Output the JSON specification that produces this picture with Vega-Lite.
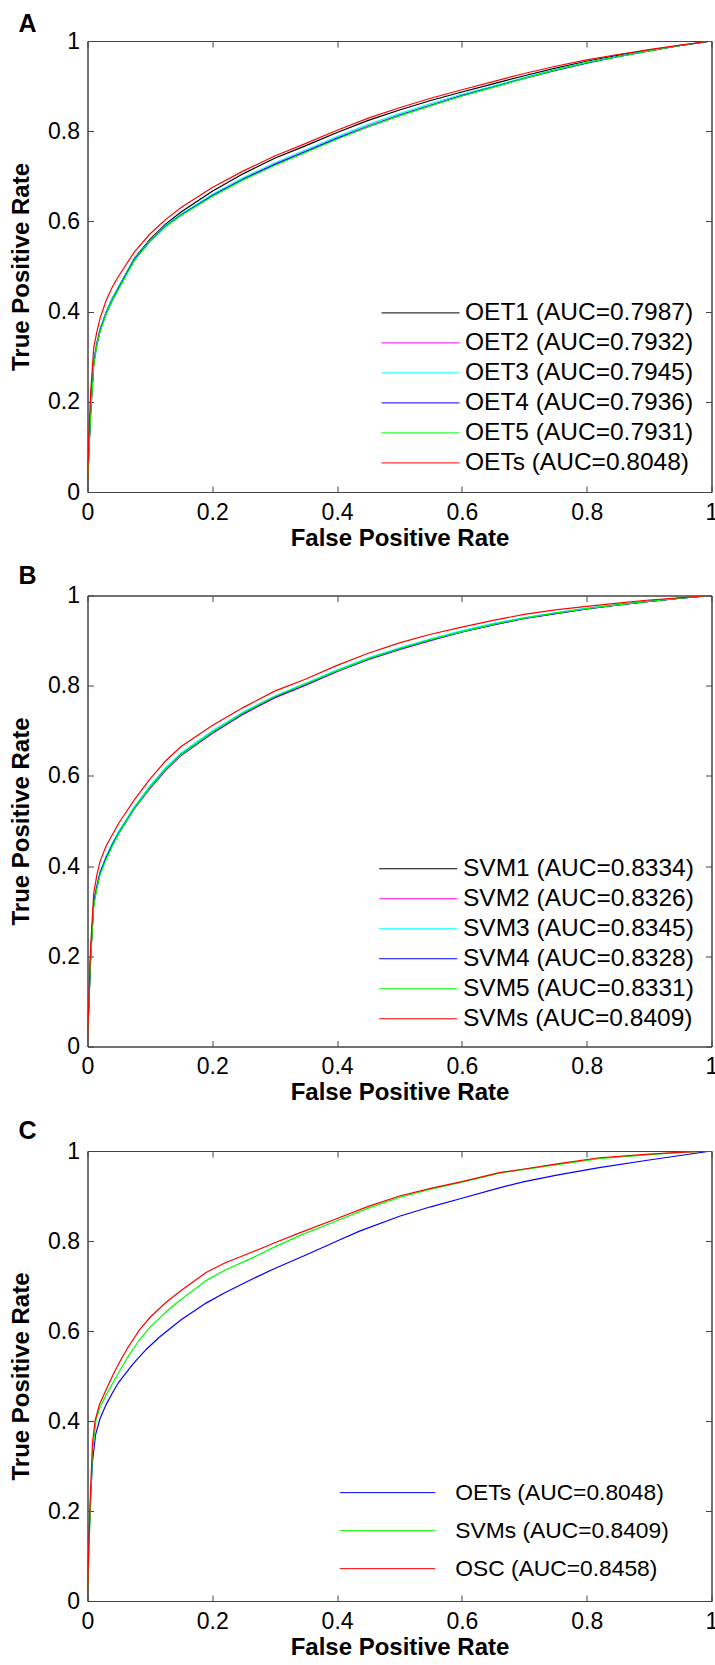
{
"$schema": "https://vega.github.io/schema/vega-lite/v6.json",
"padding": {"left": 8.5, "top": 11, "right": 0, "bottom": 0},
"spacing": 12.5,
"resolve": {"scale": {"color": "independent"}, "legend": {"color": "independent"}},
"config": {
  "view": {"stroke": "#444444", "strokeWidth": 1},
  "font": "Liberation Sans",
  "axis": {"grid": false, "labelFont": "Liberation Sans", "labelFontSize": 23, "labelColor": "#000000", "titleFont": "Liberation Sans", "titleFontSize": 24, "titleFontWeight": "bold", "titleColor": "#000000", "domainColor": "#444444", "tickColor": "#444444", "tickSize": -6, "labelFlush": false, "labelOverlap": false},
  "axisX": {"titlePadding": 2, "labelPadding": 15},
  "axisY": {"titlePadding": 14, "labelPadding": 14},
  "legend": {"labelFont": "Liberation Sans", "labelFontSize": 24.5, "labelColor": "#000000", "symbolType": "stroke", "symbolSize": 6084, "symbolStrokeWidth": 1, "labelOffset": 5, "rowPadding": 0, "clipHeight": 29.8, "padding": 0, "labelLimit": 400, "orient": "none"},
  "title": {"font": "Liberation Sans", "fontSize": 25, "fontWeight": "bold", "color": "#000000", "anchor": "start", "frame": "bounds", "dx": 9, "baseline": "alphabetic"}
},
"datasets": {
"A": [
{"s":"OET1 (AUC=0.7987)","x":0,"y":0},{"s":"OET1 (AUC=0.7987)","x":0.002,"y":0.09},{"s":"OET1 (AUC=0.7987)","x":0.005,"y":0.18},{"s":"OET1 (AUC=0.7987)","x":0.01,"y":0.29},{"s":"OET1 (AUC=0.7987)","x":0.015,"y":0.33},{"s":"OET1 (AUC=0.7987)","x":0.02,"y":0.36},{"s":"OET1 (AUC=0.7987)","x":0.03,"y":0.4},{"s":"OET1 (AUC=0.7987)","x":0.04,"y":0.43},{"s":"OET1 (AUC=0.7987)","x":0.05,"y":0.455},{"s":"OET1 (AUC=0.7987)","x":0.075,"y":0.518},{"s":"OET1 (AUC=0.7987)","x":0.1,"y":0.56},{"s":"OET1 (AUC=0.7987)","x":0.125,"y":0.594},{"s":"OET1 (AUC=0.7987)","x":0.15,"y":0.621},{"s":"OET1 (AUC=0.7987)","x":0.2,"y":0.667},{"s":"OET1 (AUC=0.7987)","x":0.25,"y":0.706},{"s":"OET1 (AUC=0.7987)","x":0.3,"y":0.74},{"s":"OET1 (AUC=0.7987)","x":0.35,"y":0.768},{"s":"OET1 (AUC=0.7987)","x":0.4,"y":0.797},{"s":"OET1 (AUC=0.7987)","x":0.45,"y":0.824},{"s":"OET1 (AUC=0.7987)","x":0.5,"y":0.847},{"s":"OET1 (AUC=0.7987)","x":0.55,"y":0.868},{"s":"OET1 (AUC=0.7987)","x":0.6,"y":0.887},{"s":"OET1 (AUC=0.7987)","x":0.65,"y":0.905},{"s":"OET1 (AUC=0.7987)","x":0.7,"y":0.923},{"s":"OET1 (AUC=0.7987)","x":0.75,"y":0.94},{"s":"OET1 (AUC=0.7987)","x":0.8,"y":0.955},{"s":"OET1 (AUC=0.7987)","x":0.85,"y":0.968},{"s":"OET1 (AUC=0.7987)","x":0.9,"y":0.98},{"s":"OET1 (AUC=0.7987)","x":0.95,"y":0.99},{"s":"OET1 (AUC=0.7987)","x":1,"y":1},
{"s":"OET2 (AUC=0.7932)","x":0,"y":0},{"s":"OET2 (AUC=0.7932)","x":0.002,"y":0.085},{"s":"OET2 (AUC=0.7932)","x":0.005,"y":0.175},{"s":"OET2 (AUC=0.7932)","x":0.01,"y":0.285},{"s":"OET2 (AUC=0.7932)","x":0.015,"y":0.328},{"s":"OET2 (AUC=0.7932)","x":0.02,"y":0.357},{"s":"OET2 (AUC=0.7932)","x":0.03,"y":0.397},{"s":"OET2 (AUC=0.7932)","x":0.04,"y":0.427},{"s":"OET2 (AUC=0.7932)","x":0.05,"y":0.452},{"s":"OET2 (AUC=0.7932)","x":0.075,"y":0.515},{"s":"OET2 (AUC=0.7932)","x":0.1,"y":0.557},{"s":"OET2 (AUC=0.7932)","x":0.125,"y":0.59},{"s":"OET2 (AUC=0.7932)","x":0.15,"y":0.615},{"s":"OET2 (AUC=0.7932)","x":0.2,"y":0.658},{"s":"OET2 (AUC=0.7932)","x":0.25,"y":0.695},{"s":"OET2 (AUC=0.7932)","x":0.3,"y":0.727},{"s":"OET2 (AUC=0.7932)","x":0.35,"y":0.756},{"s":"OET2 (AUC=0.7932)","x":0.4,"y":0.785},{"s":"OET2 (AUC=0.7932)","x":0.45,"y":0.812},{"s":"OET2 (AUC=0.7932)","x":0.5,"y":0.836},{"s":"OET2 (AUC=0.7932)","x":0.55,"y":0.858},{"s":"OET2 (AUC=0.7932)","x":0.6,"y":0.879},{"s":"OET2 (AUC=0.7932)","x":0.65,"y":0.898},{"s":"OET2 (AUC=0.7932)","x":0.7,"y":0.918},{"s":"OET2 (AUC=0.7932)","x":0.75,"y":0.936},{"s":"OET2 (AUC=0.7932)","x":0.8,"y":0.952},{"s":"OET2 (AUC=0.7932)","x":0.85,"y":0.966},{"s":"OET2 (AUC=0.7932)","x":0.9,"y":0.978},{"s":"OET2 (AUC=0.7932)","x":0.95,"y":0.99},{"s":"OET2 (AUC=0.7932)","x":1,"y":1},
{"s":"OET3 (AUC=0.7945)","x":0,"y":0},{"s":"OET3 (AUC=0.7945)","x":0.002,"y":0.09},{"s":"OET3 (AUC=0.7945)","x":0.005,"y":0.18},{"s":"OET3 (AUC=0.7945)","x":0.01,"y":0.29},{"s":"OET3 (AUC=0.7945)","x":0.015,"y":0.33},{"s":"OET3 (AUC=0.7945)","x":0.02,"y":0.36},{"s":"OET3 (AUC=0.7945)","x":0.03,"y":0.4},{"s":"OET3 (AUC=0.7945)","x":0.04,"y":0.43},{"s":"OET3 (AUC=0.7945)","x":0.05,"y":0.455},{"s":"OET3 (AUC=0.7945)","x":0.075,"y":0.517},{"s":"OET3 (AUC=0.7945)","x":0.1,"y":0.558},{"s":"OET3 (AUC=0.7945)","x":0.125,"y":0.591},{"s":"OET3 (AUC=0.7945)","x":0.15,"y":0.616},{"s":"OET3 (AUC=0.7945)","x":0.2,"y":0.66},{"s":"OET3 (AUC=0.7945)","x":0.25,"y":0.697},{"s":"OET3 (AUC=0.7945)","x":0.3,"y":0.73},{"s":"OET3 (AUC=0.7945)","x":0.35,"y":0.759},{"s":"OET3 (AUC=0.7945)","x":0.4,"y":0.788},{"s":"OET3 (AUC=0.7945)","x":0.45,"y":0.815},{"s":"OET3 (AUC=0.7945)","x":0.5,"y":0.839},{"s":"OET3 (AUC=0.7945)","x":0.55,"y":0.861},{"s":"OET3 (AUC=0.7945)","x":0.6,"y":0.882},{"s":"OET3 (AUC=0.7945)","x":0.65,"y":0.9},{"s":"OET3 (AUC=0.7945)","x":0.7,"y":0.919},{"s":"OET3 (AUC=0.7945)","x":0.75,"y":0.937},{"s":"OET3 (AUC=0.7945)","x":0.8,"y":0.953},{"s":"OET3 (AUC=0.7945)","x":0.85,"y":0.966},{"s":"OET3 (AUC=0.7945)","x":0.9,"y":0.979},{"s":"OET3 (AUC=0.7945)","x":0.95,"y":0.99},{"s":"OET3 (AUC=0.7945)","x":1,"y":1},
{"s":"OET4 (AUC=0.7936)","x":0,"y":0},{"s":"OET4 (AUC=0.7936)","x":0.002,"y":0.085},{"s":"OET4 (AUC=0.7936)","x":0.005,"y":0.175},{"s":"OET4 (AUC=0.7936)","x":0.01,"y":0.285},{"s":"OET4 (AUC=0.7936)","x":0.015,"y":0.327},{"s":"OET4 (AUC=0.7936)","x":0.02,"y":0.357},{"s":"OET4 (AUC=0.7936)","x":0.03,"y":0.396},{"s":"OET4 (AUC=0.7936)","x":0.04,"y":0.426},{"s":"OET4 (AUC=0.7936)","x":0.05,"y":0.452},{"s":"OET4 (AUC=0.7936)","x":0.075,"y":0.515},{"s":"OET4 (AUC=0.7936)","x":0.1,"y":0.556},{"s":"OET4 (AUC=0.7936)","x":0.125,"y":0.589},{"s":"OET4 (AUC=0.7936)","x":0.15,"y":0.614},{"s":"OET4 (AUC=0.7936)","x":0.2,"y":0.657},{"s":"OET4 (AUC=0.7936)","x":0.25,"y":0.694},{"s":"OET4 (AUC=0.7936)","x":0.3,"y":0.726},{"s":"OET4 (AUC=0.7936)","x":0.35,"y":0.755},{"s":"OET4 (AUC=0.7936)","x":0.4,"y":0.784},{"s":"OET4 (AUC=0.7936)","x":0.45,"y":0.81},{"s":"OET4 (AUC=0.7936)","x":0.5,"y":0.835},{"s":"OET4 (AUC=0.7936)","x":0.55,"y":0.857},{"s":"OET4 (AUC=0.7936)","x":0.6,"y":0.879},{"s":"OET4 (AUC=0.7936)","x":0.65,"y":0.898},{"s":"OET4 (AUC=0.7936)","x":0.7,"y":0.917},{"s":"OET4 (AUC=0.7936)","x":0.75,"y":0.935},{"s":"OET4 (AUC=0.7936)","x":0.8,"y":0.951},{"s":"OET4 (AUC=0.7936)","x":0.85,"y":0.965},{"s":"OET4 (AUC=0.7936)","x":0.9,"y":0.978},{"s":"OET4 (AUC=0.7936)","x":0.95,"y":0.99},{"s":"OET4 (AUC=0.7936)","x":1,"y":1},
{"s":"OET5 (AUC=0.7931)","x":0,"y":0},{"s":"OET5 (AUC=0.7931)","x":0.002,"y":0.08},{"s":"OET5 (AUC=0.7931)","x":0.005,"y":0.17},{"s":"OET5 (AUC=0.7931)","x":0.01,"y":0.28},{"s":"OET5 (AUC=0.7931)","x":0.015,"y":0.325},{"s":"OET5 (AUC=0.7931)","x":0.02,"y":0.355},{"s":"OET5 (AUC=0.7931)","x":0.03,"y":0.395},{"s":"OET5 (AUC=0.7931)","x":0.04,"y":0.425},{"s":"OET5 (AUC=0.7931)","x":0.05,"y":0.45},{"s":"OET5 (AUC=0.7931)","x":0.075,"y":0.513},{"s":"OET5 (AUC=0.7931)","x":0.1,"y":0.555},{"s":"OET5 (AUC=0.7931)","x":0.125,"y":0.588},{"s":"OET5 (AUC=0.7931)","x":0.15,"y":0.613},{"s":"OET5 (AUC=0.7931)","x":0.2,"y":0.655},{"s":"OET5 (AUC=0.7931)","x":0.25,"y":0.692},{"s":"OET5 (AUC=0.7931)","x":0.3,"y":0.724},{"s":"OET5 (AUC=0.7931)","x":0.35,"y":0.753},{"s":"OET5 (AUC=0.7931)","x":0.4,"y":0.782},{"s":"OET5 (AUC=0.7931)","x":0.45,"y":0.81},{"s":"OET5 (AUC=0.7931)","x":0.5,"y":0.834},{"s":"OET5 (AUC=0.7931)","x":0.55,"y":0.856},{"s":"OET5 (AUC=0.7931)","x":0.6,"y":0.878},{"s":"OET5 (AUC=0.7931)","x":0.65,"y":0.897},{"s":"OET5 (AUC=0.7931)","x":0.7,"y":0.917},{"s":"OET5 (AUC=0.7931)","x":0.75,"y":0.936},{"s":"OET5 (AUC=0.7931)","x":0.8,"y":0.952},{"s":"OET5 (AUC=0.7931)","x":0.85,"y":0.965},{"s":"OET5 (AUC=0.7931)","x":0.9,"y":0.978},{"s":"OET5 (AUC=0.7931)","x":0.95,"y":0.99},{"s":"OET5 (AUC=0.7931)","x":1,"y":1},
{"s":"OETs (AUC=0.8048)","x":0,"y":0},{"s":"OETs (AUC=0.8048)","x":0.002,"y":0.12},{"s":"OETs (AUC=0.8048)","x":0.005,"y":0.22},{"s":"OETs (AUC=0.8048)","x":0.01,"y":0.32},{"s":"OETs (AUC=0.8048)","x":0.015,"y":0.355},{"s":"OETs (AUC=0.8048)","x":0.02,"y":0.385},{"s":"OETs (AUC=0.8048)","x":0.03,"y":0.425},{"s":"OETs (AUC=0.8048)","x":0.04,"y":0.455},{"s":"OETs (AUC=0.8048)","x":0.05,"y":0.479},{"s":"OETs (AUC=0.8048)","x":0.075,"y":0.532},{"s":"OETs (AUC=0.8048)","x":0.1,"y":0.572},{"s":"OETs (AUC=0.8048)","x":0.125,"y":0.604},{"s":"OETs (AUC=0.8048)","x":0.15,"y":0.631},{"s":"OETs (AUC=0.8048)","x":0.2,"y":0.675},{"s":"OETs (AUC=0.8048)","x":0.25,"y":0.712},{"s":"OETs (AUC=0.8048)","x":0.3,"y":0.745},{"s":"OETs (AUC=0.8048)","x":0.35,"y":0.773},{"s":"OETs (AUC=0.8048)","x":0.4,"y":0.802},{"s":"OETs (AUC=0.8048)","x":0.45,"y":0.829},{"s":"OETs (AUC=0.8048)","x":0.5,"y":0.852},{"s":"OETs (AUC=0.8048)","x":0.55,"y":0.873},{"s":"OETs (AUC=0.8048)","x":0.6,"y":0.892},{"s":"OETs (AUC=0.8048)","x":0.65,"y":0.91},{"s":"OETs (AUC=0.8048)","x":0.7,"y":0.928},{"s":"OETs (AUC=0.8048)","x":0.75,"y":0.944},{"s":"OETs (AUC=0.8048)","x":0.8,"y":0.958},{"s":"OETs (AUC=0.8048)","x":0.85,"y":0.97},{"s":"OETs (AUC=0.8048)","x":0.9,"y":0.981},{"s":"OETs (AUC=0.8048)","x":0.95,"y":0.991},{"s":"OETs (AUC=0.8048)","x":1,"y":1}
],
"B": [
{"s":"SVM1 (AUC=0.8334)","x":0,"y":0},{"s":"SVM1 (AUC=0.8334)","x":0.002,"y":0.09},{"s":"SVM1 (AUC=0.8334)","x":0.005,"y":0.2},{"s":"SVM1 (AUC=0.8334)","x":0.01,"y":0.32},{"s":"SVM1 (AUC=0.8334)","x":0.015,"y":0.355},{"s":"SVM1 (AUC=0.8334)","x":0.02,"y":0.385},{"s":"SVM1 (AUC=0.8334)","x":0.03,"y":0.42},{"s":"SVM1 (AUC=0.8334)","x":0.04,"y":0.45},{"s":"SVM1 (AUC=0.8334)","x":0.05,"y":0.475},{"s":"SVM1 (AUC=0.8334)","x":0.075,"y":0.53},{"s":"SVM1 (AUC=0.8334)","x":0.1,"y":0.575},{"s":"SVM1 (AUC=0.8334)","x":0.125,"y":0.615},{"s":"SVM1 (AUC=0.8334)","x":0.15,"y":0.648},{"s":"SVM1 (AUC=0.8334)","x":0.2,"y":0.697},{"s":"SVM1 (AUC=0.8334)","x":0.25,"y":0.74},{"s":"SVM1 (AUC=0.8334)","x":0.3,"y":0.775},{"s":"SVM1 (AUC=0.8334)","x":0.35,"y":0.803},{"s":"SVM1 (AUC=0.8334)","x":0.4,"y":0.833},{"s":"SVM1 (AUC=0.8334)","x":0.45,"y":0.86},{"s":"SVM1 (AUC=0.8334)","x":0.5,"y":0.882},{"s":"SVM1 (AUC=0.8334)","x":0.55,"y":0.902},{"s":"SVM1 (AUC=0.8334)","x":0.6,"y":0.92},{"s":"SVM1 (AUC=0.8334)","x":0.65,"y":0.936},{"s":"SVM1 (AUC=0.8334)","x":0.7,"y":0.95},{"s":"SVM1 (AUC=0.8334)","x":0.75,"y":0.961},{"s":"SVM1 (AUC=0.8334)","x":0.8,"y":0.971},{"s":"SVM1 (AUC=0.8334)","x":0.85,"y":0.979},{"s":"SVM1 (AUC=0.8334)","x":0.9,"y":0.987},{"s":"SVM1 (AUC=0.8334)","x":0.95,"y":0.994},{"s":"SVM1 (AUC=0.8334)","x":1,"y":1},
{"s":"SVM2 (AUC=0.8326)","x":0,"y":0},{"s":"SVM2 (AUC=0.8326)","x":0.002,"y":0.088},{"s":"SVM2 (AUC=0.8326)","x":0.005,"y":0.198},{"s":"SVM2 (AUC=0.8326)","x":0.01,"y":0.318},{"s":"SVM2 (AUC=0.8326)","x":0.015,"y":0.353},{"s":"SVM2 (AUC=0.8326)","x":0.02,"y":0.383},{"s":"SVM2 (AUC=0.8326)","x":0.03,"y":0.418},{"s":"SVM2 (AUC=0.8326)","x":0.04,"y":0.447},{"s":"SVM2 (AUC=0.8326)","x":0.05,"y":0.472},{"s":"SVM2 (AUC=0.8326)","x":0.075,"y":0.527},{"s":"SVM2 (AUC=0.8326)","x":0.1,"y":0.572},{"s":"SVM2 (AUC=0.8326)","x":0.125,"y":0.612},{"s":"SVM2 (AUC=0.8326)","x":0.15,"y":0.645},{"s":"SVM2 (AUC=0.8326)","x":0.2,"y":0.694},{"s":"SVM2 (AUC=0.8326)","x":0.25,"y":0.737},{"s":"SVM2 (AUC=0.8326)","x":0.3,"y":0.773},{"s":"SVM2 (AUC=0.8326)","x":0.35,"y":0.801},{"s":"SVM2 (AUC=0.8326)","x":0.4,"y":0.831},{"s":"SVM2 (AUC=0.8326)","x":0.45,"y":0.858},{"s":"SVM2 (AUC=0.8326)","x":0.5,"y":0.88},{"s":"SVM2 (AUC=0.8326)","x":0.55,"y":0.9},{"s":"SVM2 (AUC=0.8326)","x":0.6,"y":0.919},{"s":"SVM2 (AUC=0.8326)","x":0.65,"y":0.935},{"s":"SVM2 (AUC=0.8326)","x":0.7,"y":0.949},{"s":"SVM2 (AUC=0.8326)","x":0.75,"y":0.96},{"s":"SVM2 (AUC=0.8326)","x":0.8,"y":0.97},{"s":"SVM2 (AUC=0.8326)","x":0.85,"y":0.979},{"s":"SVM2 (AUC=0.8326)","x":0.9,"y":0.987},{"s":"SVM2 (AUC=0.8326)","x":0.95,"y":0.994},{"s":"SVM2 (AUC=0.8326)","x":1,"y":1},
{"s":"SVM3 (AUC=0.8345)","x":0,"y":0},{"s":"SVM3 (AUC=0.8345)","x":0.002,"y":0.092},{"s":"SVM3 (AUC=0.8345)","x":0.005,"y":0.202},{"s":"SVM3 (AUC=0.8345)","x":0.01,"y":0.322},{"s":"SVM3 (AUC=0.8345)","x":0.015,"y":0.357},{"s":"SVM3 (AUC=0.8345)","x":0.02,"y":0.387},{"s":"SVM3 (AUC=0.8345)","x":0.03,"y":0.422},{"s":"SVM3 (AUC=0.8345)","x":0.04,"y":0.452},{"s":"SVM3 (AUC=0.8345)","x":0.05,"y":0.477},{"s":"SVM3 (AUC=0.8345)","x":0.075,"y":0.532},{"s":"SVM3 (AUC=0.8345)","x":0.1,"y":0.578},{"s":"SVM3 (AUC=0.8345)","x":0.125,"y":0.618},{"s":"SVM3 (AUC=0.8345)","x":0.15,"y":0.651},{"s":"SVM3 (AUC=0.8345)","x":0.2,"y":0.7},{"s":"SVM3 (AUC=0.8345)","x":0.25,"y":0.742},{"s":"SVM3 (AUC=0.8345)","x":0.3,"y":0.777},{"s":"SVM3 (AUC=0.8345)","x":0.35,"y":0.806},{"s":"SVM3 (AUC=0.8345)","x":0.4,"y":0.835},{"s":"SVM3 (AUC=0.8345)","x":0.45,"y":0.862},{"s":"SVM3 (AUC=0.8345)","x":0.5,"y":0.884},{"s":"SVM3 (AUC=0.8345)","x":0.55,"y":0.904},{"s":"SVM3 (AUC=0.8345)","x":0.6,"y":0.922},{"s":"SVM3 (AUC=0.8345)","x":0.65,"y":0.938},{"s":"SVM3 (AUC=0.8345)","x":0.7,"y":0.951},{"s":"SVM3 (AUC=0.8345)","x":0.75,"y":0.962},{"s":"SVM3 (AUC=0.8345)","x":0.8,"y":0.972},{"s":"SVM3 (AUC=0.8345)","x":0.85,"y":0.98},{"s":"SVM3 (AUC=0.8345)","x":0.9,"y":0.988},{"s":"SVM3 (AUC=0.8345)","x":0.95,"y":0.994},{"s":"SVM3 (AUC=0.8345)","x":1,"y":1},
{"s":"SVM4 (AUC=0.8328)","x":0,"y":0},{"s":"SVM4 (AUC=0.8328)","x":0.002,"y":0.09},{"s":"SVM4 (AUC=0.8328)","x":0.005,"y":0.2},{"s":"SVM4 (AUC=0.8328)","x":0.01,"y":0.32},{"s":"SVM4 (AUC=0.8328)","x":0.015,"y":0.354},{"s":"SVM4 (AUC=0.8328)","x":0.02,"y":0.384},{"s":"SVM4 (AUC=0.8328)","x":0.03,"y":0.419},{"s":"SVM4 (AUC=0.8328)","x":0.04,"y":0.448},{"s":"SVM4 (AUC=0.8328)","x":0.05,"y":0.473},{"s":"SVM4 (AUC=0.8328)","x":0.075,"y":0.528},{"s":"SVM4 (AUC=0.8328)","x":0.1,"y":0.573},{"s":"SVM4 (AUC=0.8328)","x":0.125,"y":0.613},{"s":"SVM4 (AUC=0.8328)","x":0.15,"y":0.646},{"s":"SVM4 (AUC=0.8328)","x":0.2,"y":0.695},{"s":"SVM4 (AUC=0.8328)","x":0.25,"y":0.738},{"s":"SVM4 (AUC=0.8328)","x":0.3,"y":0.774},{"s":"SVM4 (AUC=0.8328)","x":0.35,"y":0.802},{"s":"SVM4 (AUC=0.8328)","x":0.4,"y":0.832},{"s":"SVM4 (AUC=0.8328)","x":0.45,"y":0.858},{"s":"SVM4 (AUC=0.8328)","x":0.5,"y":0.881},{"s":"SVM4 (AUC=0.8328)","x":0.55,"y":0.901},{"s":"SVM4 (AUC=0.8328)","x":0.6,"y":0.919},{"s":"SVM4 (AUC=0.8328)","x":0.65,"y":0.935},{"s":"SVM4 (AUC=0.8328)","x":0.7,"y":0.949},{"s":"SVM4 (AUC=0.8328)","x":0.75,"y":0.96},{"s":"SVM4 (AUC=0.8328)","x":0.8,"y":0.97},{"s":"SVM4 (AUC=0.8328)","x":0.85,"y":0.979},{"s":"SVM4 (AUC=0.8328)","x":0.9,"y":0.987},{"s":"SVM4 (AUC=0.8328)","x":0.95,"y":0.994},{"s":"SVM4 (AUC=0.8328)","x":1,"y":1},
{"s":"SVM5 (AUC=0.8331)","x":0,"y":0},{"s":"SVM5 (AUC=0.8331)","x":0.002,"y":0.085},{"s":"SVM5 (AUC=0.8331)","x":0.005,"y":0.19},{"s":"SVM5 (AUC=0.8331)","x":0.01,"y":0.31},{"s":"SVM5 (AUC=0.8331)","x":0.015,"y":0.35},{"s":"SVM5 (AUC=0.8331)","x":0.02,"y":0.38},{"s":"SVM5 (AUC=0.8331)","x":0.03,"y":0.415},{"s":"SVM5 (AUC=0.8331)","x":0.04,"y":0.445},{"s":"SVM5 (AUC=0.8331)","x":0.05,"y":0.472},{"s":"SVM5 (AUC=0.8331)","x":0.075,"y":0.528},{"s":"SVM5 (AUC=0.8331)","x":0.1,"y":0.574},{"s":"SVM5 (AUC=0.8331)","x":0.125,"y":0.614},{"s":"SVM5 (AUC=0.8331)","x":0.15,"y":0.647},{"s":"SVM5 (AUC=0.8331)","x":0.2,"y":0.697},{"s":"SVM5 (AUC=0.8331)","x":0.25,"y":0.74},{"s":"SVM5 (AUC=0.8331)","x":0.3,"y":0.776},{"s":"SVM5 (AUC=0.8331)","x":0.35,"y":0.804},{"s":"SVM5 (AUC=0.8331)","x":0.4,"y":0.833},{"s":"SVM5 (AUC=0.8331)","x":0.45,"y":0.86},{"s":"SVM5 (AUC=0.8331)","x":0.5,"y":0.882},{"s":"SVM5 (AUC=0.8331)","x":0.55,"y":0.902},{"s":"SVM5 (AUC=0.8331)","x":0.6,"y":0.92},{"s":"SVM5 (AUC=0.8331)","x":0.65,"y":0.936},{"s":"SVM5 (AUC=0.8331)","x":0.7,"y":0.95},{"s":"SVM5 (AUC=0.8331)","x":0.75,"y":0.961},{"s":"SVM5 (AUC=0.8331)","x":0.8,"y":0.971},{"s":"SVM5 (AUC=0.8331)","x":0.85,"y":0.979},{"s":"SVM5 (AUC=0.8331)","x":0.9,"y":0.987},{"s":"SVM5 (AUC=0.8331)","x":0.95,"y":0.994},{"s":"SVM5 (AUC=0.8331)","x":1,"y":1},
{"s":"SVMs (AUC=0.8409)","x":0,"y":0},{"s":"SVMs (AUC=0.8409)","x":0.002,"y":0.1},{"s":"SVMs (AUC=0.8409)","x":0.005,"y":0.22},{"s":"SVMs (AUC=0.8409)","x":0.01,"y":0.34},{"s":"SVMs (AUC=0.8409)","x":0.015,"y":0.38},{"s":"SVMs (AUC=0.8409)","x":0.02,"y":0.41},{"s":"SVMs (AUC=0.8409)","x":0.03,"y":0.445},{"s":"SVMs (AUC=0.8409)","x":0.04,"y":0.47},{"s":"SVMs (AUC=0.8409)","x":0.05,"y":0.495},{"s":"SVMs (AUC=0.8409)","x":0.075,"y":0.547},{"s":"SVMs (AUC=0.8409)","x":0.1,"y":0.593},{"s":"SVMs (AUC=0.8409)","x":0.125,"y":0.633},{"s":"SVMs (AUC=0.8409)","x":0.15,"y":0.665},{"s":"SVMs (AUC=0.8409)","x":0.2,"y":0.712},{"s":"SVMs (AUC=0.8409)","x":0.25,"y":0.752},{"s":"SVMs (AUC=0.8409)","x":0.3,"y":0.788},{"s":"SVMs (AUC=0.8409)","x":0.35,"y":0.815},{"s":"SVMs (AUC=0.8409)","x":0.4,"y":0.845},{"s":"SVMs (AUC=0.8409)","x":0.45,"y":0.872},{"s":"SVMs (AUC=0.8409)","x":0.5,"y":0.895},{"s":"SVMs (AUC=0.8409)","x":0.55,"y":0.914},{"s":"SVMs (AUC=0.8409)","x":0.6,"y":0.93},{"s":"SVMs (AUC=0.8409)","x":0.65,"y":0.945},{"s":"SVMs (AUC=0.8409)","x":0.7,"y":0.958},{"s":"SVMs (AUC=0.8409)","x":0.75,"y":0.968},{"s":"SVMs (AUC=0.8409)","x":0.8,"y":0.976},{"s":"SVMs (AUC=0.8409)","x":0.85,"y":0.983},{"s":"SVMs (AUC=0.8409)","x":0.9,"y":0.99},{"s":"SVMs (AUC=0.8409)","x":0.95,"y":0.995},{"s":"SVMs (AUC=0.8409)","x":1,"y":1}
],
"C": [
{"s":"OETs (AUC=0.8048)","x":0,"y":0},{"s":"OETs (AUC=0.8048)","x":0.002,"y":0.12},{"s":"OETs (AUC=0.8048)","x":0.005,"y":0.23},{"s":"OETs (AUC=0.8048)","x":0.008,"y":0.31},{"s":"OETs (AUC=0.8048)","x":0.013,"y":0.37},{"s":"OETs (AUC=0.8048)","x":0.02,"y":0.405},{"s":"OETs (AUC=0.8048)","x":0.03,"y":0.437},{"s":"OETs (AUC=0.8048)","x":0.041,"y":0.465},{"s":"OETs (AUC=0.8048)","x":0.05,"y":0.486},{"s":"OETs (AUC=0.8048)","x":0.073,"y":0.527},{"s":"OETs (AUC=0.8048)","x":0.094,"y":0.559},{"s":"OETs (AUC=0.8048)","x":0.115,"y":0.586},{"s":"OETs (AUC=0.8048)","x":0.15,"y":0.625},{"s":"OETs (AUC=0.8048)","x":0.19,"y":0.662},{"s":"OETs (AUC=0.8048)","x":0.22,"y":0.685},{"s":"OETs (AUC=0.8048)","x":0.265,"y":0.716},{"s":"OETs (AUC=0.8048)","x":0.3,"y":0.739},{"s":"OETs (AUC=0.8048)","x":0.35,"y":0.769},{"s":"OETs (AUC=0.8048)","x":0.4,"y":0.8},{"s":"OETs (AUC=0.8048)","x":0.436,"y":0.822},{"s":"OETs (AUC=0.8048)","x":0.5,"y":0.855},{"s":"OETs (AUC=0.8048)","x":0.55,"y":0.876},{"s":"OETs (AUC=0.8048)","x":0.6,"y":0.895},{"s":"OETs (AUC=0.8048)","x":0.66,"y":0.918},{"s":"OETs (AUC=0.8048)","x":0.7,"y":0.932},{"s":"OETs (AUC=0.8048)","x":0.75,"y":0.946},{"s":"OETs (AUC=0.8048)","x":0.82,"y":0.963},{"s":"OETs (AUC=0.8048)","x":0.9,"y":0.98},{"s":"OETs (AUC=0.8048)","x":0.95,"y":0.99},{"s":"OETs (AUC=0.8048)","x":1,"y":1},
{"s":"SVMs (AUC=0.8409)","x":0,"y":0},{"s":"SVMs (AUC=0.8409)","x":0.002,"y":0.1},{"s":"SVMs (AUC=0.8409)","x":0.005,"y":0.22},{"s":"SVMs (AUC=0.8409)","x":0.008,"y":0.33},{"s":"SVMs (AUC=0.8409)","x":0.014,"y":0.405},{"s":"SVMs (AUC=0.8409)","x":0.02,"y":0.43},{"s":"SVMs (AUC=0.8409)","x":0.03,"y":0.458},{"s":"SVMs (AUC=0.8409)","x":0.04,"y":0.483},{"s":"SVMs (AUC=0.8409)","x":0.051,"y":0.51},{"s":"SVMs (AUC=0.8409)","x":0.065,"y":0.543},{"s":"SVMs (AUC=0.8409)","x":0.083,"y":0.58},{"s":"SVMs (AUC=0.8409)","x":0.1,"y":0.608},{"s":"SVMs (AUC=0.8409)","x":0.131,"y":0.649},{"s":"SVMs (AUC=0.8409)","x":0.15,"y":0.67},{"s":"SVMs (AUC=0.8409)","x":0.19,"y":0.712},{"s":"SVMs (AUC=0.8409)","x":0.22,"y":0.735},{"s":"SVMs (AUC=0.8409)","x":0.265,"y":0.763},{"s":"SVMs (AUC=0.8409)","x":0.3,"y":0.787},{"s":"SVMs (AUC=0.8409)","x":0.34,"y":0.812},{"s":"SVMs (AUC=0.8409)","x":0.4,"y":0.845},{"s":"SVMs (AUC=0.8409)","x":0.45,"y":0.873},{"s":"SVMs (AUC=0.8409)","x":0.5,"y":0.897},{"s":"SVMs (AUC=0.8409)","x":0.55,"y":0.915},{"s":"SVMs (AUC=0.8409)","x":0.6,"y":0.931},{"s":"SVMs (AUC=0.8409)","x":0.66,"y":0.951},{"s":"SVMs (AUC=0.8409)","x":0.7,"y":0.959},{"s":"SVMs (AUC=0.8409)","x":0.75,"y":0.969},{"s":"SVMs (AUC=0.8409)","x":0.82,"y":0.983},{"s":"SVMs (AUC=0.8409)","x":0.9,"y":0.992},{"s":"SVMs (AUC=0.8409)","x":0.95,"y":0.997},{"s":"SVMs (AUC=0.8409)","x":1,"y":1},
{"s":"OSC (AUC=0.8458)","x":0,"y":0},{"s":"OSC (AUC=0.8458)","x":0.002,"y":0.12},{"s":"OSC (AUC=0.8458)","x":0.005,"y":0.25},{"s":"OSC (AUC=0.8458)","x":0.008,"y":0.35},{"s":"OSC (AUC=0.8458)","x":0.012,"y":0.4},{"s":"OSC (AUC=0.8458)","x":0.019,"y":0.436},{"s":"OSC (AUC=0.8458)","x":0.03,"y":0.47},{"s":"OSC (AUC=0.8458)","x":0.04,"y":0.5},{"s":"OSC (AUC=0.8458)","x":0.051,"y":0.53},{"s":"OSC (AUC=0.8458)","x":0.065,"y":0.564},{"s":"OSC (AUC=0.8458)","x":0.083,"y":0.602},{"s":"OSC (AUC=0.8458)","x":0.1,"y":0.63},{"s":"OSC (AUC=0.8458)","x":0.126,"y":0.664},{"s":"OSC (AUC=0.8458)","x":0.15,"y":0.69},{"s":"OSC (AUC=0.8458)","x":0.19,"y":0.73},{"s":"OSC (AUC=0.8458)","x":0.22,"y":0.751},{"s":"OSC (AUC=0.8458)","x":0.265,"y":0.776},{"s":"OSC (AUC=0.8458)","x":0.3,"y":0.796},{"s":"OSC (AUC=0.8458)","x":0.34,"y":0.818},{"s":"OSC (AUC=0.8458)","x":0.4,"y":0.85},{"s":"OSC (AUC=0.8458)","x":0.45,"y":0.877},{"s":"OSC (AUC=0.8458)","x":0.5,"y":0.9},{"s":"OSC (AUC=0.8458)","x":0.55,"y":0.917},{"s":"OSC (AUC=0.8458)","x":0.6,"y":0.932},{"s":"OSC (AUC=0.8458)","x":0.66,"y":0.952},{"s":"OSC (AUC=0.8458)","x":0.7,"y":0.96},{"s":"OSC (AUC=0.8458)","x":0.75,"y":0.971},{"s":"OSC (AUC=0.8458)","x":0.82,"y":0.985},{"s":"OSC (AUC=0.8458)","x":0.9,"y":0.993},{"s":"OSC (AUC=0.8458)","x":0.95,"y":0.997},{"s":"OSC (AUC=0.8458)","x":1,"y":1}
]
},
"vconcat": [
{
  "title": {"text": "A", "offset": -6.5},
  "width": 624, "height": 451,
  "data": {"name": "A"},
  "layer": [
    {"mark": {"type": "line", "strokeWidth": 1.2, "clip": true},
     "encoding": {
       "x": {"field": "x", "type": "quantitative", "scale": {"domain": [0, 1], "nice": false, "zero": false}, "axis": {"title": "False Positive Rate", "values": [0, 0.2, 0.4, 0.6, 0.8, 1], "format": "~g"}},
       "y": {"field": "y", "type": "quantitative", "scale": {"domain": [0, 1], "nice": false, "zero": false}, "axis": {"title": "True Positive Rate", "values": [0, 0.2, 0.4, 0.6, 0.8, 1], "format": "~g"}},
       "color": {"field": "s", "type": "nominal", "scale": {"domain": ["OET1 (AUC=0.7987)", "OET2 (AUC=0.7932)", "OET3 (AUC=0.7945)", "OET4 (AUC=0.7936)", "OET5 (AUC=0.7931)", "OETs (AUC=0.8048)"], "range": ["#000000", "#ff00ff", "#00ffff", "#0000ff", "#00ff00", "#ff0000"]}, "legend": {"title": null, "legendX": 293.5, "legendY": 257, "clipHeight": 29.8}}
     }},
    {"mark": {"type": "line", "opacity": 0},
     "encoding": {
       "x": {"field": "x", "type": "quantitative", "axis": {"orient": "top", "labels": false, "title": null, "values": [0, 0.2, 0.4, 0.6, 0.8, 1]}},
       "y": {"field": "y", "type": "quantitative", "axis": {"orient": "right", "labels": false, "title": null, "values": [0, 0.2, 0.4, 0.6, 0.8, 1]}}
     }}
  ],
  "resolve": {"axis": {"x": "independent", "y": "independent"}}
},
{
  "title": {"text": "B", "offset": -4.7},
  "width": 624, "height": 451,
  "data": {"name": "B"},
  "layer": [
    {"mark": {"type": "line", "strokeWidth": 1.2, "clip": true},
     "encoding": {
       "x": {"field": "x", "type": "quantitative", "scale": {"domain": [0, 1], "nice": false, "zero": false}, "axis": {"title": "False Positive Rate", "values": [0, 0.2, 0.4, 0.6, 0.8, 1], "format": "~g"}},
       "y": {"field": "y", "type": "quantitative", "scale": {"domain": [0, 1], "nice": false, "zero": false}, "axis": {"title": "True Positive Rate", "values": [0, 0.2, 0.4, 0.6, 0.8, 1], "format": "~g"}},
       "color": {"field": "s", "type": "nominal", "scale": {"domain": ["SVM1 (AUC=0.8334)", "SVM2 (AUC=0.8326)", "SVM3 (AUC=0.8345)", "SVM4 (AUC=0.8328)", "SVM5 (AUC=0.8331)", "SVMs (AUC=0.8409)"], "range": ["#000000", "#ff00ff", "#00ffff", "#0000ff", "#00ff00", "#ff0000"]}, "legend": {"title": null, "legendX": 291.2, "legendY": 258.5, "clipHeight": 29.5, "labelOffset": 5.3}}
     }},
    {"mark": {"type": "line", "opacity": 0},
     "encoding": {
       "x": {"field": "x", "type": "quantitative", "axis": {"orient": "top", "labels": false, "title": null, "values": [0, 0.2, 0.4, 0.6, 0.8, 1]}},
       "y": {"field": "y", "type": "quantitative", "axis": {"orient": "right", "labels": false, "title": null, "values": [0, 0.2, 0.4, 0.6, 0.8, 1]}}
     }}
  ],
  "resolve": {"axis": {"x": "independent", "y": "independent"}}
},
{
  "title": {"text": "C", "offset": -4.2},
  "width": 624, "height": 450,
  "data": {"name": "C"},
  "layer": [
    {"mark": {"type": "line", "strokeWidth": 1.2, "clip": true},
     "encoding": {
       "x": {"field": "x", "type": "quantitative", "scale": {"domain": [0, 1], "nice": false, "zero": false}, "axis": {"title": "False Positive Rate", "values": [0, 0.2, 0.4, 0.6, 0.8, 1], "format": "~g"}},
       "y": {"field": "y", "type": "quantitative", "scale": {"domain": [0, 1], "nice": false, "zero": false}, "axis": {"title": "True Positive Rate", "values": [0, 0.2, 0.4, 0.6, 0.8, 1], "format": "~g"}},
       "color": {"field": "s", "type": "nominal", "scale": {"domain": ["OETs (AUC=0.8048)", "SVMs (AUC=0.8409)", "OSC (AUC=0.8458)"], "range": ["#0000ff", "#00ff00", "#ff0000"]}, "legend": {"title": null, "legendX": 251.5, "legendY": 322.8, "clipHeight": 37.7, "symbolSize": 9120, "labelOffset": 19.3, "labelFontSize": 22.8}}
     }},
    {"mark": {"type": "line", "opacity": 0},
     "encoding": {
       "x": {"field": "x", "type": "quantitative", "axis": {"orient": "top", "labels": false, "title": null, "values": [0, 0.2, 0.4, 0.6, 0.8, 1]}},
       "y": {"field": "y", "type": "quantitative", "axis": {"orient": "right", "labels": false, "title": null, "values": [0, 0.2, 0.4, 0.6, 0.8, 1]}}
     }}
  ],
  "resolve": {"axis": {"x": "independent", "y": "independent"}}
}
]
}
